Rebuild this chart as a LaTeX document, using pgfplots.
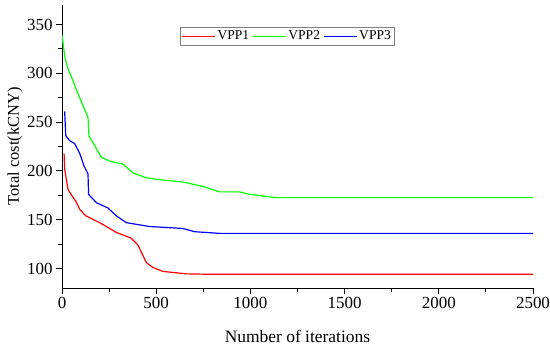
\documentclass[border=0pt]{standalone}
\usepackage{pgfplots}
\pgfplotsset{compat=1.18}
\usepackage{fontspec}
\setmainfont{Liberation Serif}
\definecolor{vgreen}{RGB}{0,255,0}
\begin{document}
\begin{tikzpicture}
\begin{axis}[
  scale only axis,
  width=471bp, height=283bp,
  xmin=0, xmax=2500, ymin=80, ymax=370,
  axis x line*=bottom, axis y line*=left,
  xtick={0,500,1000,1500,2000,2500},
  ytick={100,150,200,250,300,350},
  minor xtick={250,750,1250,1750,2250},
  minor ytick={125,175,225,275,325},
  tick align=outside,
  major tick length=6bp, minor tick length=3.5bp,
  tick style={black, line width=0.9pt},
  axis line style={line width=1pt},
  /pgf/number format/assume math mode=true,
  /pgf/number format/set thousands separator={},
  ticklabel style={font=\fontsize{17}{17}\selectfont},
  xlabel={Number of iterations}, ylabel={Total cost(kCNY)},
  xlabel style={font=\fontsize{17.5}{17.5}\selectfont, at={(axis description cs:0.5,-0.17)}, anchor=center},
  ylabel style={font=\fontsize{16.5}{16.5}\selectfont, at={(axis description cs:-0.1,0.5)}, anchor=center},
  legend columns=3,
  legend style={at={(0.478,0.922)}, anchor=north, draw=gray, line width=0.6pt,
    inner xsep=1bp, inner ysep=1.5bp,
    font=\fontsize{13.6}{13.6}\selectfont,
    /tikz/every odd column/.append style={column sep=0bp},
    /tikz/every even column/.append style={column sep=1bp}},
  legend image code/.code={\draw[#1] (0bp,0bp) -- (33bp,0bp);},
  legend cell align=left,
  every axis plot/.append style={line width=1.2pt},
]
\addplot[red] coordinates {
(11,218)(14,202)(32,181)(55,174)(76,168)(94,160.6)(126,154)(200,147)(288,137)(368,131)(403,124)(448,106)(483,101)(536,97)(660,94.5)(800,94)(2500,94)};
\addlegendentry{VPP1}
\addplot[vgreen] coordinates {
(0,339)(14,318)(29,306)(55,294)(85,279)(111,267)(138,255)(143,236)(173,226)(209,214)(253,210)(323,207)(376,198)(447,193)(518,191)(642,188.6)(750,184)(836,178.5)(942,178.5)(995,176)(1137,172.6)(2500,172.6)};
\addlegendentry{VPP2}
\addplot[blue] coordinates {
(14,261)(20,236)(41,231)(67,228)(94,218)(117,205)(138,197)(141,176)(182,167.5)(244,162)(288,154)(341,147)(465,143)(642,141)(703,137.7)(836,136)(2500,136)};
\addlegendentry{VPP3}
\end{axis}
\pgfresetboundingbox
\path (current axis.south west) ++(-62bp,-62bp) rectangle ++(550bp,350bp);
\end{tikzpicture}
\end{document}
